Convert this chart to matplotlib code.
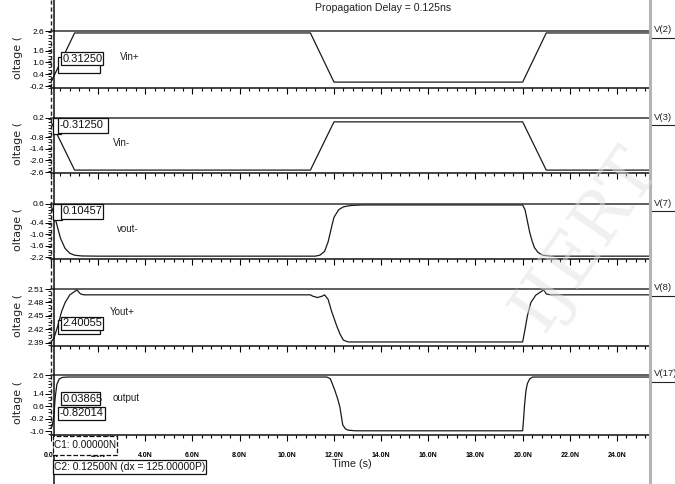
import matplotlib
matplotlib.use("Agg")
import matplotlib.pyplot as plt
from matplotlib.ticker import MultipleLocator, FixedLocator, FuncFormatter
from matplotlib.patches import Rectangle
from matplotlib.lines import Line2D

NARROW = ["Liberation Sans", "DejaVu Sans"]
W, H = 675, 484

# ---- waveform samples (time in ns, volts) ----
t_vinp = [0, 1.0, 11.0, 12.0, 20.0, 21.0, 25.4]
v_vinp = [0, 2.5, 2.5, 0, 0, 2.5, 2.5]

t_vinm = [0, 1.0, 11.0, 12.0, 20.0, 21.0, 25.4]
v_vinm = [0, -2.5, -2.5, 0, 0, -2.5, -2.5]

t_voutm = [0, 0.125, 0.25, 0.4, 0.6, 0.8, 1.0, 1.3, 2.0, 11.2, 11.4, 11.6, 11.75,
           11.9, 12.0, 12.2, 12.4, 12.7, 13.2, 20.0, 20.1, 20.2, 20.3, 20.4, 20.5,
           20.65, 20.85, 21.2, 25.4]
v_voutm = [0.5, 0.10457, -0.5, -1.2, -1.75, -2.0, -2.1, -2.14, -2.15, -2.15, -2.1,
           -1.9, -1.4, -0.6, -0.1, 0.3, 0.45, 0.52, 0.55, 0.55, 0.3, -0.3, -0.9,
           -1.35, -1.7, -1.95, -2.1, -2.15, -2.15]

t_voutp = [0, 0.125, 0.3, 0.45, 0.6, 0.8, 1.1, 1.25, 1.4, 11.0, 11.1, 11.3, 11.5,
           11.6, 11.75, 11.9, 12.1, 12.25, 12.4, 12.6, 20.0, 20.1, 20.2, 20.35,
           20.55, 20.75, 20.9, 21.0, 21.2, 25.4]
v_voutp = [2.392, 2.40055, 2.43, 2.46, 2.48, 2.497, 2.508, 2.499, 2.497, 2.497,
           2.494, 2.491, 2.494, 2.497, 2.487, 2.46, 2.43, 2.41, 2.396, 2.392,
           2.392, 2.42, 2.45, 2.48, 2.496, 2.503, 2.508, 2.499, 2.497, 2.497]

t_out = [0, 0.06, 0.125, 0.18, 0.25, 0.35, 0.5, 0.7, 11.7, 11.85, 12.03, 12.15,
         12.25, 12.37, 12.48, 12.6, 12.9, 20.0, 20.04, 20.08, 20.14, 20.2, 20.3,
         20.42, 25.4]
v_out = [-0.82014, -0.6, 0.03865, 1.2, 2.0, 2.35, 2.45, 2.47, 2.47, 2.35, 1.64,
         1.1, 0.55, -0.6, -0.85, -0.94, -0.98, -0.98, -0.2, 0.67, 1.6, 2.05, 2.35,
         2.47, 2.47]

names = ["Vin+", "Vin-", "vout-", "Yout+", "output"]
nodes = ["V(2)", "V(3)", "V(7)", "V(8)", "V(17)"]
series = [(t_vinp, v_vinp), (t_vinm, v_vinm), (t_voutm, v_voutm),
          (t_voutp, v_voutp), (t_out, v_out)]
yticks = [[-0.2, 0.4, 1.0, 1.6, 2.6],
          [-2.6, -2.0, -1.4, -0.8, 0.2],
          [-2.2, -1.6, -1.0, -0.4, 0.6],
          [2.39, 2.42, 2.45, 2.48, 2.51],
          [-1.0, -0.2, 0.6, 1.4, 2.6]]
ylims = [(-0.3, 2.6), (-2.65, 0.2), (-2.3, 0.6), (2.383, 2.51), (-1.25, 2.6)]
yminor = [0.15, 0.15, 0.15, 0.0075, 0.2]
ytick_fmt = ["%.1f", "%.1f", "%.1f", "%.2f", "%.1f"]

# pixel rows of each panel (top border, time axis)
rows = [(31, 88), (118, 173), (204, 259), (289, 346), (375, 435)]
name_pos = [(120, 57), (113, 143), (117, 229), (110, 312), (113, 398)]
X0, X1 = 51, 650
T_MAX = 25.4


def fx(x):
    return x / W


def fy(y):
    return 1 - y / H


fig = plt.figure(figsize=(W / 100, H / 100), dpi=100, facecolor="white")

axes = []
for i, (top, bot) in enumerate(rows):
    ax = fig.add_axes([fx(X0), fy(bot), fx(X1) - fx(X0), (bot - top) / H])
    t, v = series[i]
    ax.plot(t, v, color="#1a1a1a", lw=0.9, clip_on=False)
    ax.set_xlim(0, T_MAX)
    ax.set_ylim(*ylims[i])
    for s in ("left", "right"):
        ax.spines[s].set_visible(False)
    ax.spines["top"].set_color("#333333")
    ax.spines["top"].set_linewidth(1.1)
    ax.spines["bottom"].set_color("#111111")
    ax.spines["bottom"].set_linewidth(1.1)
    ax.xaxis.set_major_locator(MultipleLocator(2))
    ax.xaxis.set_minor_locator(MultipleLocator(0.4))
    ax.tick_params(axis="x", which="major", direction="out", length=4, width=0.8)
    ax.tick_params(axis="x", which="minor", direction="out", length=2.5, width=0.8)
    ax.yaxis.set_major_locator(FixedLocator(yticks[i]))
    ax.yaxis.set_minor_locator(MultipleLocator(yminor[i]))
    ax.yaxis.set_major_formatter(FuncFormatter(lambda val, pos, f=ytick_fmt[i]: f % val))
    ax.tick_params(axis="y", which="major", direction="out", length=4, width=0.7,
                   pad=1, labelsize=6)
    ax.tick_params(axis="y", which="minor", direction="out", length=2.5, width=0.6)
    for lab in ax.get_yticklabels():
        lab.set_family(NARROW)
    if i < 4:
        ax.set_xticklabels([])
    else:
        ax.xaxis.set_major_formatter(FuncFormatter(lambda val, pos: "%.1fN" % val))
        ax.tick_params(axis="x", which="major", labelsize=5, pad=8)
        for lab in ax.get_xticklabels():
            lab.set_family(NARROW)
            lab.set_fontweight("bold")
    ax.patch.set_alpha(0)
    axes.append(ax)

    # rotated, clipped y label and trace name
    fig.text(fx(18), fy((top + bot) / 2 - 2), "oltage (", rotation=90,
             ha="center", va="center", fontsize=8, color="#222222")
    fig.text(fx(name_pos[i][0]), fy(name_pos[i][1]), names[i], fontsize=7,
             family=NARROW, va="center", color="#222222")
    # node name on the right with underline
    fig.text(fx(654), fy(top - 1), nodes[i], fontsize=6.8, family=NARROW,
             va="center", color="#222222")
    fig.add_artist(Line2D([fx(652), fx(675)], [fy(top + 7), fy(top + 7)],
                          color="#222222", lw=0.8))

fig.text(fx(383), fy(8), "Propagation Delay = 0.125ns", ha="center", va="center",
         fontsize=7.6, family=NARROW, color="#222222")
fig.text(fx(352), fy(464), "Time (s)", ha="center", va="center",
         fontsize=7.8, family=NARROW, color="#222222")


def box(x0, y0, x1, y1, text="", dashed=False, size=8):
    fig.add_artist(Rectangle((fx(x0), fy(y1)), fx(x1) - fx(x0), (y1 - y0) / H,
                             facecolor="white", edgecolor="#111111", lw=0.9,
                             ls="--" if dashed else "-", transform=fig.transFigure,
                             zorder=5))
    if text:
        fig.text(fx(x0 + 1.5), fy((y0 + y1) / 2), text, fontsize=size, family=NARROW,
                 va="center", ha="left", color="#111111", zorder=6)


# cursor readouts (C1 behind, C2 in front)
box(58, 57, 100, 73)
box(61, 52, 103, 65, "0.31250")
box(53, 118, 61, 134)
box(58, 118, 108, 133, "-0.31250")
box(53, 204, 62, 220)
box(61, 204, 103, 219, "0.10457")
box(58, 320, 100, 334)
box(61, 317, 103, 330, "2.40055")
box(61, 392, 100, 405, "0.03865")
box(58, 407, 105, 420, "-0.82014")
box(53, 436, 117, 455, "C1: 0.00000N", dashed=True, size=7.2)
box(53, 460, 206, 474, "C2: 0.12500N (dx = 125.00000P)", size=7.4)

# cursor lines and right border
fig.add_artist(Line2D([fx(51), fx(51)], [fy(0), fy(436)], color="#222222",
                      lw=1.0, ls=(0, (3, 2))))
fig.add_artist(Line2D([fx(53.5), fx(53.5)], [fy(0), fy(484)], color="#111111", lw=1.1))
fig.add_artist(Line2D([fx(650), fx(650)], [fy(0), fy(484)], color="#b4b4b4", lw=2.2))

# faint publisher watermark
fig.text(fx(585), fy(240), "IJERT", rotation=55, ha="center", va="center",
         fontsize=50, family="DejaVu Serif", color="#e2e2e2", alpha=0.5, zorder=10)

fig.savefig("out.png", dpi=100, facecolor="white")
